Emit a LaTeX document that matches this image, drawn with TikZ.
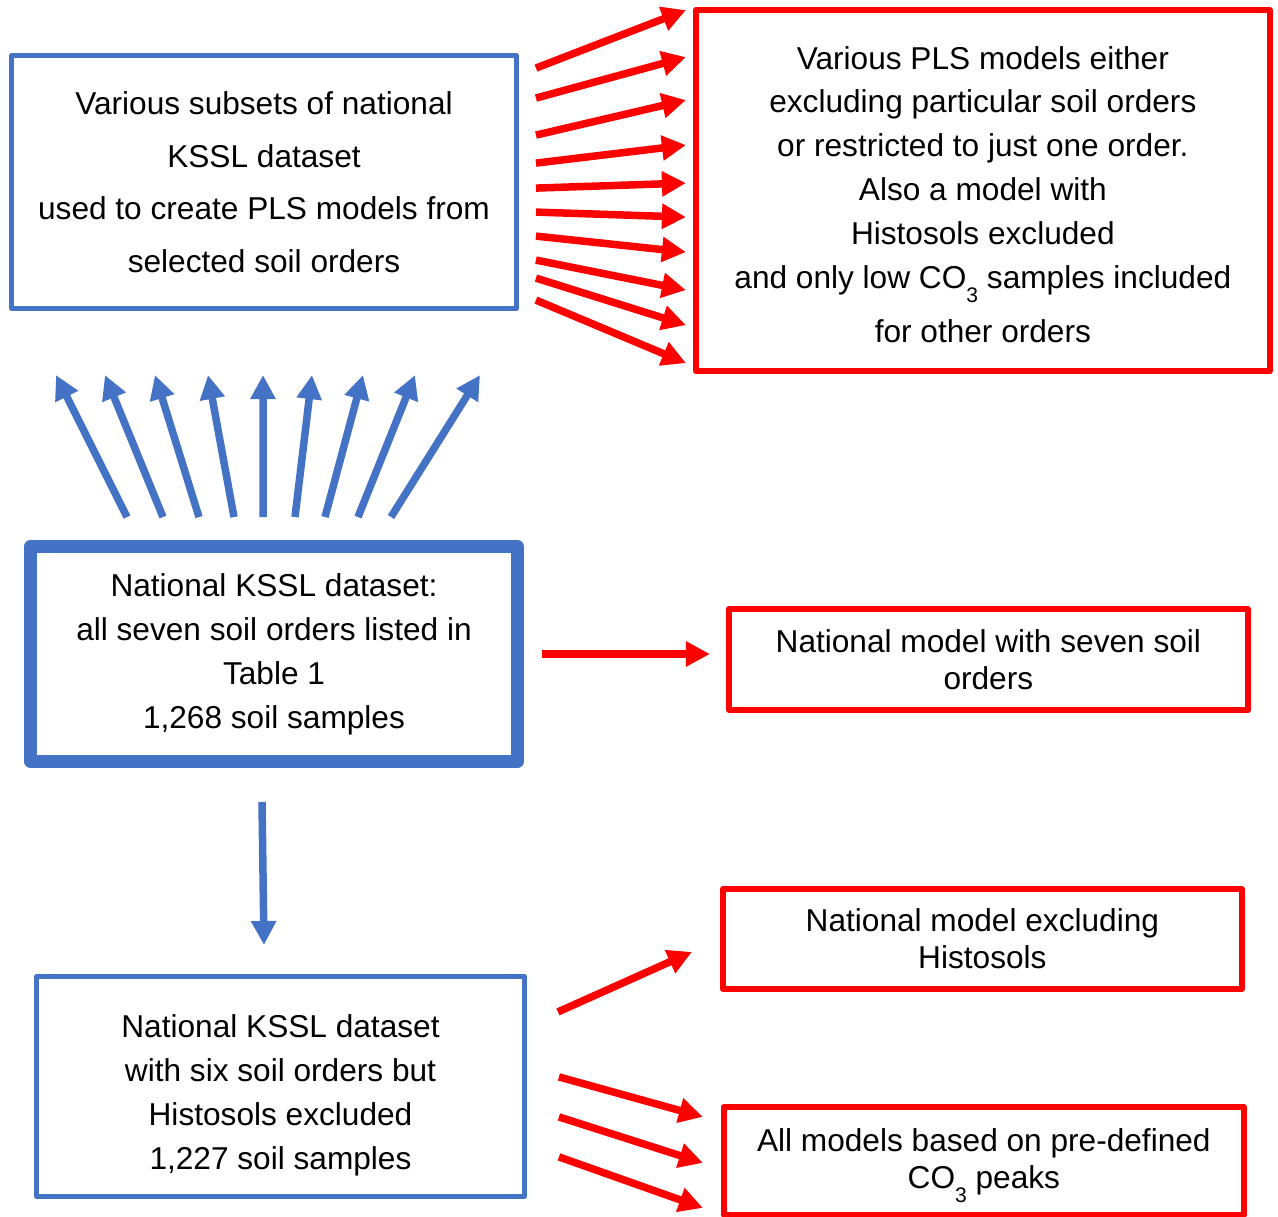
\documentclass[tikz,border=0pt]{standalone}
\usepackage{fontspec}
\setmainfont{Liberation Sans}
\usetikzlibrary{positioning,arrows.meta,calc}
\definecolor{ksblue}{HTML}{4472C4}
\definecolor{ksred}{HTML}{FF0000}
\newcommand{\cothree}{CO\raisebox{-8pt}{\fontsize{12}{12}\selectfont 3}}

\begin{document}
\begin{tikzpicture}[
      x=0.02cm, y=-0.02cm,
      font=\fontsize{18}{25}\selectfont,
      box/.style={draw, line join=round, align=center, inner sep=0pt},
      bluebox/.style={box, draw=ksblue, line width=0.1cm},
      redbox/.style={box, draw=ksred, line width=0.12cm},
      arr/.style={-{Triangle[length=0.48cm,width=0.48cm]}, line width=0.15cm},
      bluearr/.style={arr, draw=ksblue},
      redarr/.style={arr, draw=ksred}
    ]
    \useasboundingbox (0,0) rectangle (1278,1217);

    % Full national dataset
    \node[bluebox, line width=0.26cm, minimum width=9.74cm, minimum height=4.3cm]
      (national) at (274,654) {National KSSL dataset:\\all seven soil orders listed in\\Table 1\\1,268 soil samples};

    % Subsets and their models
    \node[bluebox, minimum width=10.1cm, minimum height=5.06cm, font=\fontsize{18}{30}\selectfont,
          above=4.58cm of national, xshift=-0.2cm]
      (subsets) {Various subsets of national\\KSSL dataset\\used to create PLS models from\\selected soil orders};
    \node[redbox, minimum width=11.48cm, minimum height=7.22cm, right=3.48cm of subsets, yshift=-0.17cm]
      (plsmodels) {\rule{0pt}{17.5pt}Various PLS models either\\excluding particular soil orders\\or restricted to just one order.\\Also a model with\\Histosols excluded\\and only low \cothree{} samples included\\[5.7pt]for other orders};

    % National models
    \node[redbox, minimum width=10.38cm, minimum height=2.02cm, font=\fontsize{18}{21}\selectfont,
          right=4.04cm of national, yshift=-0.11cm]
      (sevenmodel) {National model with seven soil\\orders};
    \node[redbox, minimum width=10.38cm, minimum height=2.0cm, font=\fontsize{18}{21}\selectfont,
          below=3.46cm of sevenmodel, xshift=-0.12cm]
      (nohisto) {National model excluding\\Histosols};
    \node[redbox, minimum width=10.4cm, minimum height=2.16cm, font=\fontsize{18}{21}\selectfont,
          below=2.24cm of nohisto, xshift=0.03cm]
      (peaks) {\rule{0pt}{18.6pt}All models based on pre-defined\\\cothree{} peaks};

    % Dataset without Histosols
    \node[bluebox, minimum width=9.76cm, minimum height=4.4cm, below=4.12cm of national, xshift=0.13cm]
      (sixorders) {\rule{0pt}{23pt}National KSSL dataset\\with six soil orders but\\Histosols excluded\\1,227 soil samples};

    % Fans of arrows
    \foreach \s/\e in {68/10, 98/57, 135/100, 163/145, 188/183, 212/217, 236/252, 260/290, 278/325, 300/363}
      \draw[redarr] ($(subsets.east)+(17,\s-182)$) -- ($(plsmodels.west)+(-7,\e-190.5)$);
    \foreach \b/\t in {127/56, 163/105, 199/155, 234/208, 263/263, 295/312, 325/363, 358/415, 391/480}
      \draw[bluearr] ($(national.north)+(\b-274,-23)$) -- ($(subsets.south)+(\t-264,64)$);

    \draw[redarr] ($(national.east)+(18,0)$) -- ($(national.east -| sevenmodel.west)+(-16,0)$);
    \draw[bluearr] ($(national.south)+(-12,34)$) -- ($(sixorders.north)+(-16.5,-29)$);

    \draw[redarr] ($(sixorders.east)+(31,-74.5)$) -- ($(nohisto.west)+(-28,13)$);
    \foreach \s/\e in {1077/1117, 1117/1163, 1157/1208}
      \draw[redarr] ($(sixorders.east)+(32,\s-1086.5)$) -- ($(peaks.west)+(-18,\e-1161)$);
  \end{tikzpicture}
\end{document}
